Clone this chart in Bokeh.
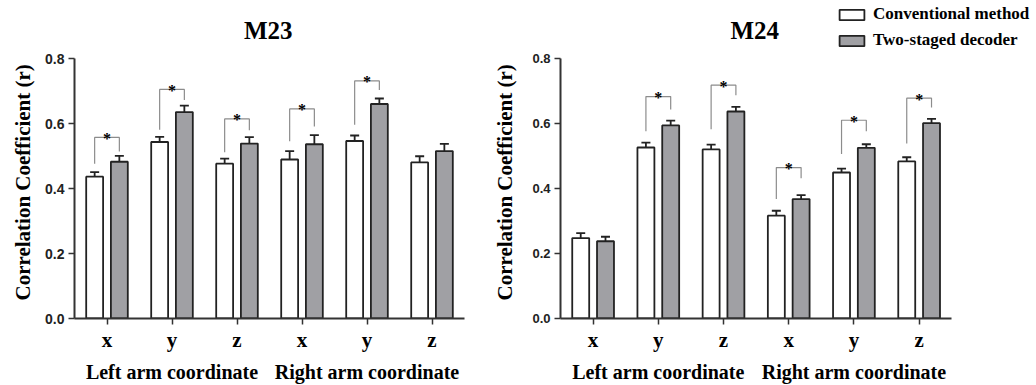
from bokeh.plotting import figure
from bokeh.models import (Range1d, FixedTicker, PrintfTickFormatter, LinearAxis,
                          ColumnDataSource, Whisker, TeeHead, Legend, LegendItem, Label,
                          Title)
from bokeh.layouts import row
from bokeh.embed import file_html
from bokeh.resources import INLINE
from bokeh.core.properties import value

# ---------------- data ----------------
coords = ["x", "y", "z", "x", "y", "z"]
groups = ["Left arm coordinate", "Right arm coordinate"]
series_names = ["Conventional method", "Two-staged decoder"]

m23_conv = [0.437, 0.544, 0.477, 0.490, 0.547, 0.481]
m23_conv_err = [0.014, 0.016, 0.016, 0.026, 0.017, 0.019]
m23_two = [0.483, 0.636, 0.539, 0.537, 0.661, 0.516]
m23_two_err = [0.018, 0.020, 0.020, 0.028, 0.017, 0.022]
m23_sig_top = [0.558, 0.706, 0.615, 0.646, 0.732, None]
m23_sig_left = [0.477, 0.582, 0.512, 0.546, 0.597, None]
m23_sig_right = [0.515, 0.673, 0.580, 0.592, 0.704, None]

m24_conv = [0.248, 0.527, 0.521, 0.317, 0.450, 0.484]
m24_conv_err = [0.015, 0.015, 0.015, 0.015, 0.012, 0.013]
m24_two = [0.238, 0.595, 0.638, 0.368, 0.526, 0.602]
m24_two_err = [0.014, 0.015, 0.014, 0.012, 0.011, 0.013]
m24_sig_top = [None, 0.684, 0.719, 0.465, 0.611, 0.679]
m24_sig_left = [None, 0.577, 0.583, 0.368, 0.507, 0.539]
m24_sig_right = [None, 0.644, 0.688, 0.432, 0.577, 0.650]

y_ticks = [0.0, 0.2, 0.4, 0.6, 0.8]

SERIF = "Liberation Serif"
SANS = "Liberation Sans"
GRAY = "#a0a0a4"
DARK = "#222222"
OFF = 0.19
BW = 0.26
Y_TOP = 0.98   # frame spans above the 0.8 axis end, to hold title and legend


def make_panel(title, conv, conv_err, two, two_err, sig_top, sig_left, sig_right,
               width, border_left, x_end, tick_font, label_standoff):
    p = figure(width=width, height=385, output_backend="svg", toolbar_location=None,
               x_range=Range1d(-0.5, x_end), y_range=Range1d(0, Y_TOP),
               min_border_left=border_left, min_border_right=0,
               min_border_top=0, min_border_bottom=64)
    p.outline_line_color = None
    p.xgrid.visible = False
    p.ygrid.visible = False
    p.background_fill_color = "white"
    p.border_fill_color = "white"

    idx = list(range(len(coords)))
    xw = [i - OFF for i in idx]
    xg = [i + OFF for i in idx]

    rw = p.vbar(x=xw, top=conv, width=BW, bottom=0, fill_color="white",
                line_color=DARK, line_width=1.8)
    rg = p.vbar(x=xg, top=two, width=BW, bottom=0, fill_color=GRAY,
                line_color=DARK, line_width=1.8)

    for xs, vals, errs in ((xw, conv, conv_err), (xg, two, two_err)):
        src = ColumnDataSource(dict(x=xs, lo=vals, hi=[v + e for v, e in zip(vals, errs)]))
        w = Whisker(base="x", lower="lo", upper="hi", source=src, dimension="height",
                    line_color=DARK, line_width=1.8,
                    upper_head=TeeHead(size=9, line_color=DARK, line_width=1.8),
                    lower_head=None)
        p.add_layout(w)

    bx, by, ax, ay = [], [], [], []
    for i in idx:
        if sig_top[i] is None:
            continue
        bx.append([xw[i], xw[i], xg[i], xg[i]])
        by.append([sig_left[i], sig_top[i], sig_top[i], sig_right[i]])
        ax.append(i)
        ay.append(sig_top[i])
    p.multi_line(xs=bx, ys=by, line_color="#8c8c8c", line_width=1.2)
    p.text(x=ax, y=ay, text=["*"] * len(ax), text_align="center",
           text_baseline="alphabetic", text_font=value(SERIF), text_font_size="16px",
           text_font_style="bold", text_color="black", y_offset=1)

    # panel title
    p.add_layout(Label(x=2.48, y=0.887, text=title, text_align="center",
                       text_baseline="alphabetic", text_font=SERIF,
                       text_font_size="25px", text_font_style="bold",
                       text_color="black"))

    # y axis
    ya = p.yaxis[0]
    ya.ticker = FixedTicker(ticks=y_ticks)
    ya.bounds = (0, 0.8)
    ya.formatter = PrintfTickFormatter(format="%.1f")
    ya.minor_tick_line_color = None
    ya.major_tick_in = 0
    ya.major_tick_out = 6
    ya.major_tick_line_width = 1.5
    ya.major_tick_line_color = "#333333"
    ya.axis_line_width = 2
    ya.axis_line_color = "#333333"
    ya.major_label_text_font = SANS
    ya.major_label_text_font_style = "bold"
    ya.major_label_text_font_size = tick_font
    ya.major_label_text_color = "#222222"
    ya.major_label_standoff = 4

    ylab = Title(text="Correlation Coefficient (r)", align="left", offset=18,
                 text_font=SERIF, text_font_style="bold", text_font_size="21px",
                 text_color="black", standoff=label_standoff)
    p.add_layout(ylab, "left")

    # x axis (coordinates)
    xa = p.xaxis[0]
    xa.ticker = FixedTicker(ticks=idx)
    xa.bounds = (-0.5, 5.5)
    xa.major_label_overrides = {i: c for i, c in zip(idx, coords)}
    xa.minor_tick_line_color = None
    xa.major_tick_in = 0
    xa.major_tick_out = 6
    xa.major_tick_line_width = 1.5
    xa.major_tick_line_color = "#333333"
    xa.axis_line_width = 2
    xa.axis_line_color = "#333333"
    xa.major_label_text_font = SERIF
    xa.major_label_text_font_style = "bold"
    xa.major_label_text_font_size = "21px"
    xa.major_label_text_color = "black"
    xa.major_label_standoff = 3

    # group axis
    ga = LinearAxis(ticker=FixedTicker(ticks=[1, 4]),
                    major_label_overrides={1: groups[0], 4: groups[1]})
    ga.axis_line_color = None
    ga.major_tick_line_color = None
    ga.minor_tick_line_color = None
    ga.major_label_text_font = SERIF
    ga.major_label_text_font_style = "bold"
    ga.major_label_text_font_size = "20px"
    ga.major_label_text_color = "black"
    ga.major_label_standoff = 0
    p.add_layout(ga, "below")
    return p, rw, rg


p1, _, _ = make_panel("M23", m23_conv, m23_conv_err, m23_two, m23_two_err,
                      m23_sig_top, m23_sig_left, m23_sig_right,
                      width=475, border_left=74, x_end=5.669, tick_font="14px",
                      label_standoff=15)
p2, rw2, rg2 = make_panel("M24", m24_conv, m24_conv_err, m24_two, m24_two_err,
                          m24_sig_top, m24_sig_left, m24_sig_right,
                          width=561, border_left=85, x_end=6.80, tick_font="13px",
                          label_standoff=26)

lg = Legend(items=[LegendItem(label=series_names[0], renderers=[rw2]),
                   LegendItem(label=series_names[1], renderers=[rg2])],
            location=(276, 268), orientation="vertical",
            padding=0, margin=0, spacing=6,
            glyph_width=31, glyph_height=13, label_standoff=6,
            label_text_font=SERIF, label_text_font_style="bold",
            label_text_font_size="17px", label_text_color="black",
            border_line_color=None, background_fill_alpha=0)
p2.add_layout(lg, "center")

layout = row(p1, p2)
open("out.html", "w").write(file_html(layout, INLINE))
